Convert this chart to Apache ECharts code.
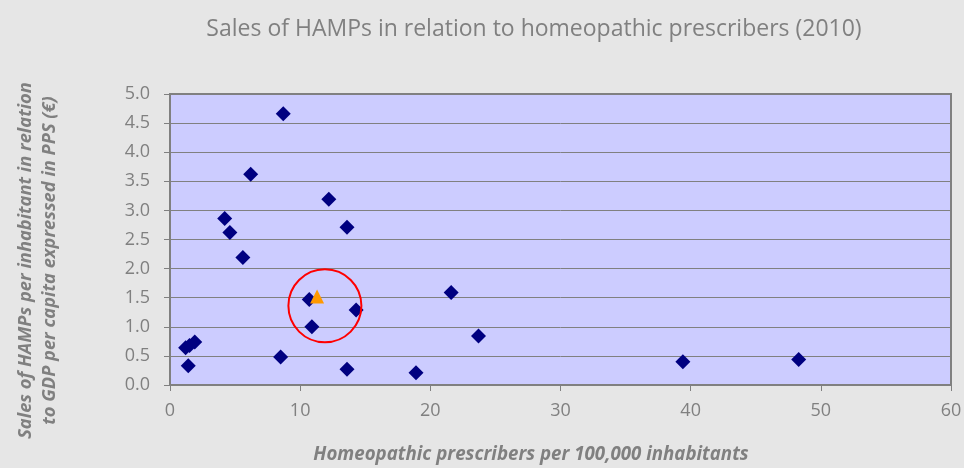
<!DOCTYPE html>
<html>
<head>
<meta charset="utf-8">
<style>
  html, body { margin: 0; padding: 0; background: #e6e6e6; }
  #chart { width: 964px; height: 468px; }
</style>
<script src="https://cdn.jsdelivr.net/npm/echarts@6/dist/echarts.min.js"></script>
</head>
<body>
<div id="chart"></div>
<script>
// prescribers per 100,000 inhabitants vs sales per inhabitant
const countryPoints = [
  [1.2, 0.64], [1.5, 0.68], [1.9, 0.74], [1.4, 0.33],
  [4.2, 2.86], [4.6, 2.62], [5.6, 2.19], [6.2, 3.62],
  [8.7, 4.66], [8.5, 0.48], [10.7, 1.47], [10.9, 1.00],
  [12.2, 3.19], [13.6, 2.71], [13.6, 0.27], [14.3, 1.29],
  [18.9, 0.21], [21.6, 1.59], [23.7, 0.84], [39.4, 0.40],
  [48.3, 0.44]
]
const highlightPoint = [[11.3, 1.52]]
const circleCenter = [[11.9, 1.36]]

const xTicks = { min: 0, max: 60, interval: 10 }
const yTicks = { min: 0, max: 5, interval: 0.5 }

const grey = "#808080"
const font = "'Open Sans', sans-serif"

const chart = echarts.init(document.getElementById("chart"))

chart.setOption({
  backgroundColor: "#e6e6e6",
  animation: false,
  title: {
    text: "Sales of HAMPs in relation to homeopathic prescribers (2010)",
    left: 529,
    top: 13,
    textAlign: "center",
    textStyle: {
      color: grey,
      fontFamily: font,
      fontWeight: "normal",
      fontSize: 23
    }
  },
  grid: {
    left: 170,
    top: 94,
    width: 781,
    height: 291,
    outerBoundsMode: "none",
    show: true,
    backgroundColor: "#ccccff",
    borderColor: grey,
    borderWidth: 2
  },
  xAxis: {
    type: "value",
    min: xTicks.min,
    max: xTicks.max,
    interval: xTicks.interval,
    name: "Homeopathic prescribers per 100,000 inhabitants",
    nameLocation: "middle",
    nameGap: 60,
    nameTextStyle: {
      color: grey,
      fontFamily: font,
      fontSize: 18.7,
      fontWeight: "bold",
      fontStyle: "italic",
      padding: [0, 59, 0, 0]
    },
    axisLine: { lineStyle: { color: grey, width: 2 } },
    axisTick: { show: true, length: 6, lineStyle: { color: grey } },
    splitLine: { show: false },
    axisLabel: {
      color: grey,
      fontFamily: font,
      fontSize: 18,
      margin: 17
    }
  },
  yAxis: {
    type: "value",
    min: yTicks.min,
    max: yTicks.max,
    interval: yTicks.interval,
    name: "Sales of HAMPs per inhabitant in relation\nto GDP per capita expressed in PPS (€)",
    nameLocation: "middle",
    nameRotate: 90,
    nameGap: 108,
    nameTextStyle: {
      color: grey,
      fontFamily: font,
      fontSize: 18.3,
      fontWeight: "bold",
      fontStyle: "italic",
      lineHeight: 24,
      padding: [0, 42, 0, 0]
    },
    axisLine: { show: true, lineStyle: { color: grey, width: 2 } },
    axisTick: { show: true, length: 6, lineStyle: { color: grey } },
    splitLine: { show: true, lineStyle: { color: grey, width: 1 } },
    axisLabel: {
      color: grey,
      fontFamily: font,
      fontSize: 18,
      margin: 20,
      formatter: v => v.toFixed(1)
    }
  },
  series: [
    {
      type: "scatter",
      data: countryPoints,
      symbol: "diamond",
      symbolSize: 15,
      itemStyle: { color: "#000080", opacity: 1 }
    },
    {
      type: "scatter",
      data: highlightPoint,
      symbol: "triangle",
      symbolSize: 14,
      itemStyle: { color: "#ff9900", opacity: 1 },
      z: 3
    },
    {
      type: "scatter",
      data: circleCenter,
      symbol: "circle",
      symbolSize: 73,
      silent: true,
      itemStyle: {
        color: "rgba(0,0,0,0)",
        borderColor: "#ff0000",
        borderWidth: 2,
        opacity: 1
      },
      z: 4
    }
  ]
})

window.addEventListener("resize", () => chart.resize())
</script>
</body>
</html>
